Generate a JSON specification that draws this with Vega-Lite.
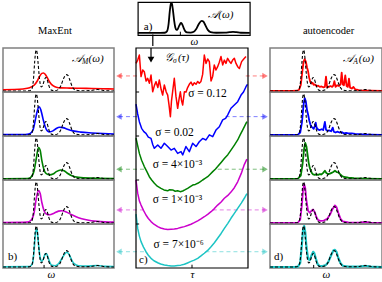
{
"$schema": "https://vega.github.io/schema/vega-lite/v6.json",
"padding": {"left": 1, "top": 1, "right": 0, "bottom": 0},
"config": {
 "font": "Liberation Serif",
 "view": {"stroke": null},
 "line": {"strokeJoin": "round"},
 "axis": {"titleFont": "Liberation Serif", "titleFontWeight": "normal", "titleFontSize": 11, "titleFontStyle": "italic", "titleColor": "black", "labels": false, "ticks": false, "domain": false, "grid": false, "titlePadding": 0},
 "title": {"font": "Liberation Serif", "fontSize": 10.5, "fontWeight": "normal", "color": "black"}
},
"datasets": {
 "truth": [{"w":0,"A":0},{"w":0.2,"A":0},{"w":0.24,"A":0.005},{"w":0.26,"A":0.05},{"w":0.275,"A":0.3},{"w":0.285,"A":0.7},{"w":0.295,"A":0.97},{"w":0.3,"A":1},{"w":0.305,"A":0.97},{"w":0.315,"A":0.72},{"w":0.325,"A":0.4},{"w":0.335,"A":0.18},{"w":0.345,"A":0.1},{"w":0.355,"A":0.12},{"w":0.37,"A":0.24},{"w":0.385,"A":0.33},{"w":0.395,"A":0.3},{"w":0.41,"A":0.16},{"w":0.425,"A":0.05},{"w":0.44,"A":0.015},{"w":0.47,"A":0.01},{"w":0.5,"A":0.04},{"w":0.52,"A":0.12},{"w":0.545,"A":0.3},{"w":0.57,"A":0.4},{"w":0.585,"A":0.38},{"w":0.6,"A":0.28},{"w":0.625,"A":0.1},{"w":0.65,"A":0.025},{"w":0.7,"A":0.005},{"w":0.78,"A":0.008},{"w":0.82,"A":0.025},{"w":0.85,"A":0.035},{"w":0.88,"A":0.025},{"w":0.92,"A":0.005},{"w":1,"A":0}],
 "me": [
  {"s":"r","w":0,"A":0.03},{"s":"r","w":0.1,"A":0.035},{"s":"r","w":0.18,"A":0.05},{"s":"r","w":0.24,"A":0.08},{"s":"r","w":0.28,"A":0.14},{"s":"r","w":0.31,"A":0.25},{"s":"r","w":0.33,"A":0.36},{"s":"r","w":0.35,"A":0.43},{"s":"r","w":0.365,"A":0.44},{"s":"r","w":0.38,"A":0.41},{"s":"r","w":0.4,"A":0.32},{"s":"r","w":0.42,"A":0.22},{"s":"r","w":0.45,"A":0.13},{"s":"r","w":0.48,"A":0.09},{"s":"r","w":0.52,"A":0.075},{"s":"r","w":0.6,"A":0.07},{"s":"r","w":0.7,"A":0.065},{"s":"r","w":0.8,"A":0.06},{"s":"r","w":0.9,"A":0.055},{"s":"r","w":1,"A":0.05},
  {"s":"b","w":0,"A":0.01},{"s":"b","w":0.2,"A":0.012},{"s":"b","w":0.24,"A":0.03},{"s":"b","w":0.27,"A":0.12},{"s":"b","w":0.29,"A":0.35},{"s":"b","w":0.31,"A":0.6},{"s":"b","w":0.325,"A":0.69},{"s":"b","w":0.34,"A":0.62},{"s":"b","w":0.36,"A":0.4},{"s":"b","w":0.38,"A":0.2},{"s":"b","w":0.4,"A":0.1},{"s":"b","w":0.42,"A":0.075},{"s":"b","w":0.45,"A":0.1},{"s":"b","w":0.48,"A":0.16},{"s":"b","w":0.51,"A":0.19},{"s":"b","w":0.54,"A":0.18},{"s":"b","w":0.58,"A":0.14},{"s":"b","w":0.63,"A":0.1},{"s":"b","w":0.7,"A":0.07},{"s":"b","w":0.8,"A":0.05},{"s":"b","w":0.9,"A":0.035},{"s":"b","w":1,"A":0.025},
  {"s":"g","w":0,"A":0.005},{"s":"g","w":0.22,"A":0.01},{"s":"g","w":0.25,"A":0.04},{"s":"g","w":0.28,"A":0.2},{"s":"g","w":0.3,"A":0.5},{"s":"g","w":0.32,"A":0.77},{"s":"g","w":0.335,"A":0.7},{"s":"g","w":0.35,"A":0.45},{"s":"g","w":0.37,"A":0.22},{"s":"g","w":0.39,"A":0.13},{"s":"g","w":0.42,"A":0.1},{"s":"g","w":0.45,"A":0.12},{"s":"g","w":0.48,"A":0.18},{"s":"g","w":0.52,"A":0.22},{"s":"g","w":0.55,"A":0.2},{"s":"g","w":0.58,"A":0.14},{"s":"g","w":0.62,"A":0.08},{"s":"g","w":0.68,"A":0.04},{"s":"g","w":0.8,"A":0.02},{"s":"g","w":1,"A":0.01},
  {"s":"m","w":0,"A":0.01},{"s":"m","w":0.22,"A":0.02},{"s":"m","w":0.25,"A":0.06},{"s":"m","w":0.28,"A":0.25},{"s":"m","w":0.3,"A":0.6},{"s":"m","w":0.32,"A":0.79},{"s":"m","w":0.335,"A":0.72},{"s":"m","w":0.35,"A":0.5},{"s":"m","w":0.37,"A":0.3},{"s":"m","w":0.39,"A":0.22},{"s":"m","w":0.42,"A":0.2},{"s":"m","w":0.46,"A":0.24},{"s":"m","w":0.5,"A":0.29},{"s":"m","w":0.53,"A":0.3},{"s":"m","w":0.57,"A":0.27},{"s":"m","w":0.62,"A":0.2},{"s":"m","w":0.68,"A":0.13},{"s":"m","w":0.75,"A":0.08},{"s":"m","w":0.85,"A":0.04},{"s":"m","w":1,"A":0.02},
  {"s":"c","w":0,"A":0.005},{"s":"c","w":0.24,"A":0.01},{"s":"c","w":0.265,"A":0.08},{"s":"c","w":0.28,"A":0.4},{"s":"c","w":0.29,"A":0.75},{"s":"c","w":0.3,"A":0.93},{"s":"c","w":0.31,"A":0.85},{"s":"c","w":0.32,"A":0.55},{"s":"c","w":0.335,"A":0.22},{"s":"c","w":0.35,"A":0.14},{"s":"c","w":0.365,"A":0.2},{"s":"c","w":0.38,"A":0.32},{"s":"c","w":0.39,"A":0.33},{"s":"c","w":0.4,"A":0.28},{"s":"c","w":0.42,"A":0.12},{"s":"c","w":0.44,"A":0.04},{"s":"c","w":0.47,"A":0.03},{"s":"c","w":0.5,"A":0.08},{"s":"c","w":0.53,"A":0.2},{"s":"c","w":0.56,"A":0.33},{"s":"c","w":0.575,"A":0.36},{"s":"c","w":0.59,"A":0.33},{"s":"c","w":0.61,"A":0.22},{"s":"c","w":0.64,"A":0.08},{"s":"c","w":0.68,"A":0.03},{"s":"c","w":0.75,"A":0.02},{"s":"c","w":0.85,"A":0.035},{"s":"c","w":0.92,"A":0.015},{"s":"c","w":1,"A":0.01}
 ],
 "ae": [
  {"s":"r","w":0,"A":0},{"s":"r","w":0.2,"A":0},{"s":"r","w":0.24,"A":0.005},{"s":"r","w":0.26,"A":0.03},{"s":"r","w":0.275,"A":0.15},{"s":"r","w":0.29,"A":0.5},{"s":"r","w":0.3,"A":0.72},{"s":"r","w":0.31,"A":0.78},{"s":"r","w":0.32,"A":0.72},{"s":"r","w":0.33,"A":0.58},{"s":"r","w":0.34,"A":0.48},{"s":"r","w":0.35,"A":0.32},{"s":"r","w":0.36,"A":0.22},{"s":"r","w":0.37,"A":0.18},{"s":"r","w":0.38,"A":0.2},{"s":"r","w":0.39,"A":0.15},{"s":"r","w":0.4,"A":0.16},{"s":"r","w":0.415,"A":0.12},{"s":"r","w":0.43,"A":0.13},{"s":"r","w":0.445,"A":0.1},{"s":"r","w":0.46,"A":0.11},{"s":"r","w":0.475,"A":0.09},{"s":"r","w":0.49,"A":0.1},{"s":"r","w":0.5,"A":0.35},{"s":"r","w":0.51,"A":0.09},{"s":"r","w":0.525,"A":0.1},{"s":"r","w":0.54,"A":0.12},{"s":"r","w":0.555,"A":0.1},{"s":"r","w":0.565,"A":0.13},{"s":"r","w":0.575,"A":0.24},{"s":"r","w":0.585,"A":0.1},{"s":"r","w":0.6,"A":0.14},{"s":"r","w":0.615,"A":0.12},{"s":"r","w":0.63,"A":0.16},{"s":"r","w":0.64,"A":0.45},{"s":"r","w":0.65,"A":0.16},{"s":"r","w":0.66,"A":0.14},{"s":"r","w":0.672,"A":0.38},{"s":"r","w":0.684,"A":0.12},{"s":"r","w":0.695,"A":0.1},{"s":"r","w":0.705,"A":0.3},{"s":"r","w":0.715,"A":0.08},{"s":"r","w":0.73,"A":0.06},{"s":"r","w":0.745,"A":0.1},{"s":"r","w":0.76,"A":0.04},{"s":"r","w":0.78,"A":0.03},{"s":"r","w":0.8,"A":0.015},{"s":"r","w":0.85,"A":0.01},{"s":"r","w":0.9,"A":0.005},{"s":"r","w":1,"A":0},
  {"s":"b","w":0,"A":0},{"s":"b","w":0.22,"A":0},{"s":"b","w":0.25,"A":0.01},{"s":"b","w":0.27,"A":0.06},{"s":"b","w":0.285,"A":0.3},{"s":"b","w":0.3,"A":0.75},{"s":"b","w":0.31,"A":0.9},{"s":"b","w":0.32,"A":0.82},{"s":"b","w":0.33,"A":0.62},{"s":"b","w":0.34,"A":0.5},{"s":"b","w":0.35,"A":0.36},{"s":"b","w":0.36,"A":0.26},{"s":"b","w":0.37,"A":0.2},{"s":"b","w":0.38,"A":0.18},{"s":"b","w":0.39,"A":0.15},{"s":"b","w":0.4,"A":0.22},{"s":"b","w":0.408,"A":0.3},{"s":"b","w":0.416,"A":0.18},{"s":"b","w":0.43,"A":0.13},{"s":"b","w":0.445,"A":0.12},{"s":"b","w":0.46,"A":0.14},{"s":"b","w":0.475,"A":0.12},{"s":"b","w":0.49,"A":0.32},{"s":"b","w":0.5,"A":0.13},{"s":"b","w":0.515,"A":0.1},{"s":"b","w":0.53,"A":0.11},{"s":"b","w":0.545,"A":0.09},{"s":"b","w":0.56,"A":0.18},{"s":"b","w":0.57,"A":0.08},{"s":"b","w":0.585,"A":0.06},{"s":"b","w":0.6,"A":0.08},{"s":"b","w":0.62,"A":0.06},{"s":"b","w":0.64,"A":0.07},{"s":"b","w":0.66,"A":0.04},{"s":"b","w":0.68,"A":0.05},{"s":"b","w":0.7,"A":0.04},{"s":"b","w":0.73,"A":0.04},{"s":"b","w":0.76,"A":0.025},{"s":"b","w":0.8,"A":0.02},{"s":"b","w":0.85,"A":0.01},{"s":"b","w":0.9,"A":0.008},{"s":"b","w":1,"A":0},
  {"s":"g","w":0,"A":0},{"s":"g","w":0.22,"A":0},{"s":"g","w":0.25,"A":0.01},{"s":"g","w":0.275,"A":0.08},{"s":"g","w":0.29,"A":0.35},{"s":"g","w":0.305,"A":0.75},{"s":"g","w":0.315,"A":0.88},{"s":"g","w":0.325,"A":0.8},{"s":"g","w":0.335,"A":0.6},{"s":"g","w":0.345,"A":0.4},{"s":"g","w":0.355,"A":0.27},{"s":"g","w":0.365,"A":0.2},{"s":"g","w":0.375,"A":0.14},{"s":"g","w":0.385,"A":0.11},{"s":"g","w":0.4,"A":0.1},{"s":"g","w":0.415,"A":0.11},{"s":"g","w":0.43,"A":0.1},{"s":"g","w":0.445,"A":0.12},{"s":"g","w":0.46,"A":0.11},{"s":"g","w":0.475,"A":0.15},{"s":"g","w":0.49,"A":0.2},{"s":"g","w":0.505,"A":0.14},{"s":"g","w":0.52,"A":0.12},{"s":"g","w":0.535,"A":0.13},{"s":"g","w":0.55,"A":0.15},{"s":"g","w":0.565,"A":0.17},{"s":"g","w":0.58,"A":0.2},{"s":"g","w":0.595,"A":0.17},{"s":"g","w":0.61,"A":0.16},{"s":"g","w":0.625,"A":0.12},{"s":"g","w":0.64,"A":0.08},{"s":"g","w":0.66,"A":0.05},{"s":"g","w":0.7,"A":0.03},{"s":"g","w":0.75,"A":0.02},{"s":"g","w":0.8,"A":0.015},{"s":"g","w":0.85,"A":0.01},{"s":"g","w":1,"A":0},
  {"s":"m","w":0,"A":0},{"s":"m","w":0.22,"A":0},{"s":"m","w":0.25,"A":0.01},{"s":"m","w":0.27,"A":0.08},{"s":"m","w":0.285,"A":0.45},{"s":"m","w":0.295,"A":0.8},{"s":"m","w":0.305,"A":0.95},{"s":"m","w":0.315,"A":0.85},{"s":"m","w":0.325,"A":0.55},{"s":"m","w":0.34,"A":0.3},{"s":"m","w":0.355,"A":0.25},{"s":"m","w":0.37,"A":0.3},{"s":"m","w":0.385,"A":0.33},{"s":"m","w":0.4,"A":0.26},{"s":"m","w":0.415,"A":0.14},{"s":"m","w":0.43,"A":0.07},{"s":"m","w":0.45,"A":0.05},{"s":"m","w":0.48,"A":0.06},{"s":"m","w":0.51,"A":0.1},{"s":"m","w":0.535,"A":0.2},{"s":"m","w":0.56,"A":0.35},{"s":"m","w":0.58,"A":0.43},{"s":"m","w":0.595,"A":0.38},{"s":"m","w":0.61,"A":0.25},{"s":"m","w":0.63,"A":0.1},{"s":"m","w":0.65,"A":0.04},{"s":"m","w":0.7,"A":0.015},{"s":"m","w":0.8,"A":0.01},{"s":"m","w":0.85,"A":0.025},{"s":"m","w":0.9,"A":0.01},{"s":"m","w":1,"A":0},
  {"s":"c","w":0,"A":0},{"s":"c","w":0.22,"A":0},{"s":"c","w":0.25,"A":0.01},{"s":"c","w":0.27,"A":0.1},{"s":"c","w":0.285,"A":0.55},{"s":"c","w":0.295,"A":0.9},{"s":"c","w":0.305,"A":1},{"s":"c","w":0.315,"A":0.85},{"s":"c","w":0.325,"A":0.5},{"s":"c","w":0.34,"A":0.2},{"s":"c","w":0.355,"A":0.17},{"s":"c","w":0.37,"A":0.28},{"s":"c","w":0.385,"A":0.37},{"s":"c","w":0.395,"A":0.34},{"s":"c","w":0.41,"A":0.2},{"s":"c","w":0.425,"A":0.07},{"s":"c","w":0.44,"A":0.03},{"s":"c","w":0.47,"A":0.02},{"s":"c","w":0.5,"A":0.05},{"s":"c","w":0.52,"A":0.12},{"s":"c","w":0.545,"A":0.28},{"s":"c","w":0.565,"A":0.4},{"s":"c","w":0.58,"A":0.42},{"s":"c","w":0.595,"A":0.36},{"s":"c","w":0.61,"A":0.22},{"s":"c","w":0.63,"A":0.09},{"s":"c","w":0.65,"A":0.03},{"s":"c","w":0.7,"A":0.01},{"s":"c","w":0.8,"A":0.01},{"s":"c","w":0.85,"A":0.03},{"s":"c","w":0.9,"A":0.01},{"s":"c","w":1,"A":0}
 ],
 "gt": [
  {"s":"r","t":0.0,"G":0.93},{"s":"r","t":0.015,"G":0.945},{"s":"r","t":0.03,"G":0.968},{"s":"r","t":0.045,"G":0.87},{"s":"r","t":0.06,"G":0.9},{"s":"r","t":0.074,"G":0.892},{"s":"r","t":0.09,"G":0.85},{"s":"r","t":0.104,"G":0.862},{"s":"r","t":0.12,"G":0.84},{"s":"r","t":0.134,"G":0.877},{"s":"r","t":0.149,"G":0.801},{"s":"r","t":0.165,"G":0.83},{"s":"r","t":0.179,"G":0.847},{"s":"r","t":0.195,"G":0.82},{"s":"r","t":0.208,"G":0.855},{"s":"r","t":0.225,"G":0.81},{"s":"r","t":0.238,"G":0.786},{"s":"r","t":0.253,"G":0.832},{"s":"r","t":0.27,"G":0.8},{"s":"r","t":0.283,"G":0.786},{"s":"r","t":0.295,"G":0.74},{"s":"r","t":0.307,"G":0.688},{"s":"r","t":0.317,"G":0.76},{"s":"r","t":0.327,"G":0.801},{"s":"r","t":0.342,"G":0.862},{"s":"r","t":0.357,"G":0.78},{"s":"r","t":0.372,"G":0.726},{"s":"r","t":0.385,"G":0.77},{"s":"r","t":0.396,"G":0.801},{"s":"r","t":0.407,"G":0.76},{"s":"r","t":0.417,"G":0.741},{"s":"r","t":0.432,"G":0.801},{"s":"r","t":0.447,"G":0.8},{"s":"r","t":0.461,"G":0.82},{"s":"r","t":0.476,"G":0.835},{"s":"r","t":0.491,"G":0.845},{"s":"r","t":0.506,"G":0.83},{"s":"r","t":0.521,"G":0.842},{"s":"r","t":0.536,"G":0.835},{"s":"r","t":0.551,"G":0.848},{"s":"r","t":0.565,"G":0.84},{"s":"r","t":0.58,"G":0.848},{"s":"r","t":0.595,"G":0.88},{"s":"r","t":0.61,"G":0.968},{"s":"r","t":0.625,"G":0.93},{"s":"r","t":0.64,"G":0.95},{"s":"r","t":0.655,"G":0.938},{"s":"r","t":0.67,"G":0.85},{"s":"r","t":0.685,"G":0.872},{"s":"r","t":0.699,"G":0.923},{"s":"r","t":0.714,"G":0.9},{"s":"r","t":0.729,"G":0.915},{"s":"r","t":0.744,"G":0.935},{"s":"r","t":0.759,"G":0.961},{"s":"r","t":0.774,"G":0.923},{"s":"r","t":0.789,"G":0.945},{"s":"r","t":0.803,"G":0.93},{"s":"r","t":0.818,"G":0.953},{"s":"r","t":0.833,"G":0.94},{"s":"r","t":0.848,"G":0.93},{"s":"r","t":0.863,"G":0.945},{"s":"r","t":0.878,"G":0.953},{"s":"r","t":0.893,"G":0.93},{"s":"r","t":0.908,"G":0.915},{"s":"r","t":0.923,"G":0.907},{"s":"r","t":0.943,"G":0.938},{"s":"r","t":0.962,"G":0.95},{"s":"r","t":0.982,"G":0.961},
  {"s":"b","t":0,"G":0.745},{"s":"b","t":0.015,"G":0.7},{"s":"b","t":0.03,"G":0.665},{"s":"b","t":0.05,"G":0.635},{"s":"b","t":0.07,"G":0.62},{"s":"b","t":0.089,"G":0.612},{"s":"b","t":0.11,"G":0.595},{"s":"b","t":0.134,"G":0.589},{"s":"b","t":0.15,"G":0.56},{"s":"b","t":0.164,"G":0.544},{"s":"b","t":0.194,"G":0.559},{"s":"b","t":0.223,"G":0.544},{"s":"b","t":0.253,"G":0.567},{"s":"b","t":0.283,"G":0.552},{"s":"b","t":0.313,"G":0.536},{"s":"b","t":0.342,"G":0.544},{"s":"b","t":0.372,"G":0.521},{"s":"b","t":0.402,"G":0.529},{"s":"b","t":0.417,"G":0.514},{"s":"b","t":0.446,"G":0.552},{"s":"b","t":0.476,"G":0.529},{"s":"b","t":0.506,"G":0.567},{"s":"b","t":0.536,"G":0.552},{"s":"b","t":0.565,"G":0.574},{"s":"b","t":0.595,"G":0.589},{"s":"b","t":0.625,"G":0.582},{"s":"b","t":0.655,"G":0.605},{"s":"b","t":0.685,"G":0.597},{"s":"b","t":0.714,"G":0.627},{"s":"b","t":0.744,"G":0.642},{"s":"b","t":0.774,"G":0.673},{"s":"b","t":0.8,"G":0.68},{"s":"b","t":0.818,"G":0.695},{"s":"b","t":0.848,"G":0.726},{"s":"b","t":0.878,"G":0.741},{"s":"b","t":0.908,"G":0.756},{"s":"b","t":0.938,"G":0.786},{"s":"b","t":0.96,"G":0.8},{"s":"b","t":0.982,"G":0.824},{"s":"b","t":0.995,"G":0.835},
  {"s":"g","t":0,"G":0.59},{"s":"g","t":0.03,"G":0.521},{"s":"g","t":0.05,"G":0.49},{"s":"g","t":0.074,"G":0.461},{"s":"g","t":0.095,"G":0.44},{"s":"g","t":0.119,"G":0.415},{"s":"g","t":0.14,"G":0.4},{"s":"g","t":0.164,"G":0.385},{"s":"g","t":0.19,"G":0.372},{"s":"g","t":0.223,"G":0.362},{"s":"g","t":0.25,"G":0.355},{"s":"g","t":0.283,"G":0.351},{"s":"g","t":0.3,"G":0.356},{"s":"g","t":0.327,"G":0.355},{"s":"g","t":0.35,"G":0.349},{"s":"g","t":0.372,"G":0.351},{"s":"g","t":0.395,"G":0.347},{"s":"g","t":0.417,"G":0.35},{"s":"g","t":0.44,"G":0.356},{"s":"g","t":0.461,"G":0.362},{"s":"g","t":0.485,"G":0.37},{"s":"g","t":0.506,"G":0.377},{"s":"g","t":0.53,"G":0.38},{"s":"g","t":0.551,"G":0.385},{"s":"g","t":0.575,"G":0.393},{"s":"g","t":0.595,"G":0.4},{"s":"g","t":0.62,"G":0.408},{"s":"g","t":0.64,"G":0.415},{"s":"g","t":0.66,"G":0.425},{"s":"g","t":0.685,"G":0.438},{"s":"g","t":0.71,"G":0.45},{"s":"g","t":0.729,"G":0.461},{"s":"g","t":0.76,"G":0.48},{"s":"g","t":0.789,"G":0.498},{"s":"g","t":0.82,"G":0.515},{"s":"g","t":0.848,"G":0.536},{"s":"g","t":0.88,"G":0.56},{"s":"g","t":0.908,"G":0.582},{"s":"g","t":0.93,"G":0.605},{"s":"g","t":0.952,"G":0.627},{"s":"g","t":0.97,"G":0.645},{"s":"g","t":0.99,"G":0.665},
  {"s":"m","t":0,"G":0.4},{"s":"m","t":0.015,"G":0.34},{"s":"m","t":0.03,"G":0.305},{"s":"m","t":0.045,"G":0.286},{"s":"m","t":0.067,"G":0.262},{"s":"m","t":0.089,"G":0.241},{"s":"m","t":0.11,"G":0.225},{"s":"m","t":0.134,"G":0.211},{"s":"m","t":0.16,"G":0.199},{"s":"m","t":0.194,"G":0.188},{"s":"m","t":0.22,"G":0.182},{"s":"m","t":0.253,"G":0.177},{"s":"m","t":0.283,"G":0.175},{"s":"m","t":0.313,"G":0.176},{"s":"m","t":0.342,"G":0.177},{"s":"m","t":0.372,"G":0.18},{"s":"m","t":0.4,"G":0.184},{"s":"m","t":0.432,"G":0.188},{"s":"m","t":0.46,"G":0.193},{"s":"m","t":0.491,"G":0.199},{"s":"m","t":0.52,"G":0.206},{"s":"m","t":0.551,"G":0.214},{"s":"m","t":0.58,"G":0.223},{"s":"m","t":0.61,"G":0.233},{"s":"m","t":0.64,"G":0.244},{"s":"m","t":0.67,"G":0.256},{"s":"m","t":0.7,"G":0.27},{"s":"m","t":0.729,"G":0.286},{"s":"m","t":0.76,"G":0.3},{"s":"m","t":0.789,"G":0.317},{"s":"m","t":0.82,"G":0.33},{"s":"m","t":0.848,"G":0.345},{"s":"m","t":0.878,"G":0.365},{"s":"m","t":0.908,"G":0.392},{"s":"m","t":0.94,"G":0.43},{"s":"m","t":0.967,"G":0.47},{"s":"m","t":0.99,"G":0.495},
  {"s":"c","t":0,"G":0.245},{"s":"c","t":0.015,"G":0.18},{"s":"c","t":0.03,"G":0.145},{"s":"c","t":0.045,"G":0.12},{"s":"c","t":0.067,"G":0.095},{"s":"c","t":0.089,"G":0.074},{"s":"c","t":0.11,"G":0.058},{"s":"c","t":0.134,"G":0.044},{"s":"c","t":0.16,"G":0.033},{"s":"c","t":0.194,"G":0.024},{"s":"c","t":0.22,"G":0.018},{"s":"c","t":0.253,"G":0.014},{"s":"c","t":0.283,"G":0.011},{"s":"c","t":0.313,"G":0.009},{"s":"c","t":0.342,"G":0.009},{"s":"c","t":0.372,"G":0.011},{"s":"c","t":0.4,"G":0.013},{"s":"c","t":0.432,"G":0.017},{"s":"c","t":0.46,"G":0.023},{"s":"c","t":0.491,"G":0.03},{"s":"c","t":0.52,"G":0.036},{"s":"c","t":0.551,"G":0.044},{"s":"c","t":0.58,"G":0.055},{"s":"c","t":0.61,"G":0.067},{"s":"c","t":0.64,"G":0.08},{"s":"c","t":0.67,"G":0.097},{"s":"c","t":0.7,"G":0.115},{"s":"c","t":0.729,"G":0.135},{"s":"c","t":0.76,"G":0.157},{"s":"c","t":0.789,"G":0.18},{"s":"c","t":0.82,"G":0.203},{"s":"c","t":0.848,"G":0.226},{"s":"c","t":0.878,"G":0.248},{"s":"c","t":0.908,"G":0.271},{"s":"c","t":0.94,"G":0.295},{"s":"c","t":0.967,"G":0.317},{"s":"c","t":0.99,"G":0.338}
 ],
 "arr": [
  {"s":"r","t":-0.152,"t2":0.02,"G":0.873},{"s":"r","t":0.98,"t2":1.152,"G":0.873},
  {"s":"b","t":-0.152,"t2":0.03,"G":0.688},{"s":"b","t":0.8,"t2":1.152,"G":0.688},
  {"s":"g","t":-0.152,"t2":0.075,"G":0.449},{"s":"g","t":0.73,"t2":1.152,"G":0.449},
  {"s":"m","t":-0.152,"t2":0.067,"G":0.264},{"s":"m","t":0.685,"t2":1.152,"G":0.264},
  {"s":"c","t":-0.152,"t2":0.09,"G":0.074},{"s":"c","t":0.62,"t2":1.152,"G":0.074}
 ],
 "heads": [
  {"s":"r","t":-0.152,"G":0.873,"dir":"L"},{"s":"r","t":1.152,"G":0.873,"dir":"R"},
  {"s":"b","t":-0.152,"G":0.688,"dir":"L"},{"s":"b","t":1.152,"G":0.688,"dir":"R"},
  {"s":"g","t":-0.152,"G":0.449,"dir":"L"},{"s":"g","t":1.152,"G":0.449,"dir":"R"},
  {"s":"m","t":-0.152,"G":0.264,"dir":"L"},{"s":"m","t":1.152,"G":0.264,"dir":"R"},
  {"s":"c","t":-0.152,"G":0.074,"dir":"L"},{"s":"c","t":1.152,"G":0.074,"dir":"R"}
 ]
},
"spacing": 0,
"vconcat": [
 {
  "spacing": 28.8,
  "hconcat": [
   {"width": 104, "height": 22, "data": {"values": []}, "mark": "point", "encoding": {}, "title": {"text": "MaxEnt", "orient": "bottom", "offset": 2, "anchor": "middle"}},
   {
    "width": 112, "height": 33,
    "view": {"stroke": "black", "strokeWidth": 1.2},
    "encoding": {
     "x": {"field": "w", "type": "quantitative", "scale": {"domain": [0, 1], "nice": false, "zero": false}, "axis": {"title": "ω"}},
     "y": {"field": "A", "type": "quantitative", "scale": {"domain": [-0.07, 1.03], "nice": false, "zero": false}, "axis": null}
    },
    "layer": [
     {"data": {"name": "truth"}, "mark": {"type": "line", "color": "black", "strokeWidth": 1.8, "interpolate": "monotone"}, "encoding": {}},
     {"data": {"values": [{"w": 0.38, "A": -0.07, "A2": 0.04}]}, "mark": {"type": "rule", "color": "black", "strokeWidth": 1}, "encoding": {"y2": {"field": "A2"}}},
     {"data": {"values": [{"w": 0.134, "A": -0.07, "A2": -0.42}]}, "mark": {"type": "rule", "color": "black", "strokeWidth": 1.2, "strokeCap": "square", "clip": false}, "encoding": {"y2": {"field": "A2"}}},
     {"data": {"values": [{"w": 0.741, "A": 0.6, "label": "𝒜(ω)"}]}, "mark": {"type": "text", "fontSize": 11, "fontStyle": "italic"}, "encoding": {"text": {"field": "label"}}},
     {"data": {"values": [{"w": 0.054, "A": 0.2, "label": "a)"}]}, "mark": {"type": "text", "fontSize": 11, "align": "left"}, "encoding": {"text": {"field": "label"}}}
    ]
   },
   {"width": 96, "height": 22, "data": {"values": []}, "mark": "point", "encoding": {}, "title": {"text": "autoencoder", "orient": "bottom", "offset": 2, "anchor": "middle"}}
  ]
 },
 {
  "spacing": 0,
  "hconcat": [
   {
    "spacing": 0,
    "bounds": "flush",
    "vconcat": [
     {
      "width": 111, "height": 44, "view": {"stroke": "#808080", "strokeWidth": 1.5},
      "encoding": {"x": {"field": "w", "type": "quantitative", "scale": {"domain": [0, 1], "nice": false, "zero": false}, "axis": null}, "y": {"field": "A", "type": "quantitative", "scale": {"domain": [-0.025, 1.05], "nice": false, "zero": false}, "axis": null}},
      "layer": [
       {"data": {"name": "me"}, "transform": [{"filter": "datum.s == 'r'"}], "mark": {"type": "line", "color": "#ff0000", "strokeWidth": 1.6, "interpolate": "monotone"}, "encoding": {}},
       {"data": {"name": "truth"}, "mark": {"type": "line", "color": "black", "strokeWidth": 1.1, "strokeDash": [3, 2], "interpolate": "monotone"}, "encoding": {}},
       {"data": {"values": [{"w": 0.712, "A": 0.78, "a": "𝒜", "b": "M", "c": "(ω)"}]}, "mark": {"type": "text", "fontSize": 11, "fontStyle": "italic", "align": "right"}, "encoding": {"text": {"field": "a"}}},
       {"data": {"values": [{"w": 0.712, "A": 0.78, "a": "𝒜", "b": "M", "c": "(ω)"}]}, "mark": {"type": "text", "fontSize": 7.5, "fontStyle": "italic", "align": "left", "dy": 3}, "encoding": {"text": {"field": "b"}}},
       {"data": {"values": [{"w": 0.712, "A": 0.78, "a": "𝒜", "b": "M", "c": "(ω)"}]}, "mark": {"type": "text", "fontSize": 11, "fontStyle": "italic", "align": "left", "dx": 6.5}, "encoding": {"text": {"field": "c"}}}
      ]
     },
     {
      "width": 111, "height": 44, "view": {"stroke": "#808080", "strokeWidth": 1.5},
      "encoding": {"x": {"field": "w", "type": "quantitative", "scale": {"domain": [0, 1], "nice": false, "zero": false}, "axis": null}, "y": {"field": "A", "type": "quantitative", "scale": {"domain": [-0.025, 1.05], "nice": false, "zero": false}, "axis": null}},
      "layer": [
       {"data": {"name": "me"}, "transform": [{"filter": "datum.s == 'b'"}], "mark": {"type": "line", "color": "#0000ff", "strokeWidth": 1.6, "interpolate": "monotone"}, "encoding": {}},
       {"data": {"name": "truth"}, "mark": {"type": "line", "color": "black", "strokeWidth": 1.1, "strokeDash": [3, 2], "interpolate": "monotone"}, "encoding": {}}
      ]
     },
     {
      "width": 111, "height": 44, "view": {"stroke": "#808080", "strokeWidth": 1.5},
      "encoding": {"x": {"field": "w", "type": "quantitative", "scale": {"domain": [0, 1], "nice": false, "zero": false}, "axis": null}, "y": {"field": "A", "type": "quantitative", "scale": {"domain": [-0.025, 1.05], "nice": false, "zero": false}, "axis": null}},
      "layer": [
       {"data": {"name": "me"}, "transform": [{"filter": "datum.s == 'g'"}], "mark": {"type": "line", "color": "#008000", "strokeWidth": 1.6, "interpolate": "monotone"}, "encoding": {}},
       {"data": {"name": "truth"}, "mark": {"type": "line", "color": "black", "strokeWidth": 1.1, "strokeDash": [3, 2], "interpolate": "monotone"}, "encoding": {}}
      ]
     },
     {
      "width": 111, "height": 44, "view": {"stroke": "#808080", "strokeWidth": 1.5},
      "encoding": {"x": {"field": "w", "type": "quantitative", "scale": {"domain": [0, 1], "nice": false, "zero": false}, "axis": null}, "y": {"field": "A", "type": "quantitative", "scale": {"domain": [-0.025, 1.05], "nice": false, "zero": false}, "axis": null}},
      "layer": [
       {"data": {"name": "me"}, "transform": [{"filter": "datum.s == 'm'"}], "mark": {"type": "line", "color": "#cc00cc", "strokeWidth": 1.6, "interpolate": "monotone"}, "encoding": {}},
       {"data": {"name": "truth"}, "mark": {"type": "line", "color": "black", "strokeWidth": 1.1, "strokeDash": [3, 2], "interpolate": "monotone"}, "encoding": {}}
      ]
     },
     {
      "width": 111, "height": 44, "view": {"stroke": "#808080", "strokeWidth": 1.5},
      "encoding": {"x": {"field": "w", "type": "quantitative", "scale": {"domain": [0, 1], "nice": false, "zero": false}, "axis": {"title": "ω", "titleX": 48}}, "y": {"field": "A", "type": "quantitative", "scale": {"domain": [-0.025, 1.05], "nice": false, "zero": false}, "axis": null}},
      "layer": [
       {"data": {"name": "me"}, "transform": [{"filter": "datum.s == 'c'"}], "mark": {"type": "line", "color": "#1cc4c4", "strokeWidth": 1.6, "interpolate": "monotone"}, "encoding": {}},
       {"data": {"name": "truth"}, "mark": {"type": "line", "color": "black", "strokeWidth": 1.1, "strokeDash": [3, 2], "interpolate": "monotone"}, "encoding": {}},
       {"data": {"values": [{"w": 0.37, "A": -0.025, "A2": 0.05}]}, "mark": {"type": "rule", "color": "black", "strokeWidth": 1}, "encoding": {"y2": {"field": "A2"}}},
       {"data": {"values": [{"w": 0.045, "A": 0.24, "label": "b)"}]}, "mark": {"type": "text", "fontSize": 11, "align": "left"}, "encoding": {"text": {"field": "label"}}}
      ]
     }
    ]
   },
   {
    "width": 152, "height": 220,
    "encoding": {
     "x": {"field": "t", "type": "quantitative", "scale": {"domain": [-0.1786, 1.1786], "nice": false, "zero": false}, "axis": {"title": "τ"}},
     "y": {"field": "G", "type": "quantitative", "scale": {"domain": [0, 1], "nice": false, "zero": false}, "axis": null},
     "color": {"field": "s", "type": "nominal", "scale": {"domain": ["r", "b", "g", "m", "c"], "range": ["#ff0000", "#0000ff", "#008000", "#cc00cc", "#1cc4c4"]}, "legend": null}
    },
    "layer": [
     {"data": {"name": "arr"}, "mark": {"type": "rule", "strokeDash": [4, 3], "strokeWidth": 1, "opacity": 0.5}, "encoding": {"x2": {"field": "t2"}}},
     {"data": {"name": "heads"}, "mark": {"type": "point", "filled": true, "opacity": 0.5, "size": 40}, "encoding": {"shape": {"field": "dir", "type": "nominal", "scale": {"domain": ["L", "R"], "range": ["triangle-left", "triangle-right"]}, "legend": null}}},
     {"data": {"name": "gt"}, "mark": {"type": "line", "strokeWidth": 1.5}, "encoding": {}},
     {"data": {"values": [{"t": 0, "t2": 1, "G": 0, "G2": 1}]}, "mark": {"type": "rect", "filled": false, "stroke": "black", "strokeWidth": 1.2}, "encoding": {"x2": {"field": "t2"}, "y2": {"field": "G2"}, "color": {"value": "black"}}},
     {"data": {"values": [{"t": 0, "t2": 0.028, "G": 0.2}, {"t": 0, "t2": 0.028, "G": 0.4}, {"t": 0, "t2": 0.028, "G": 0.6}, {"t": 0, "t2": 0.028, "G": 0.8}]}, "mark": {"type": "rule", "strokeWidth": 1}, "encoding": {"x2": {"field": "t2"}, "color": {"value": "black"}}},
     {"data": {"values": [{"t": 0.5, "G": 0, "G2": 0.015}]}, "mark": {"type": "rule", "strokeWidth": 1}, "encoding": {"y2": {"field": "G2"}, "color": {"value": "black"}}},
     {"data": {"values": [{"t": 0.134, "G": 1, "G2": 0.95}]}, "mark": {"type": "rule", "strokeWidth": 1.2}, "encoding": {"y2": {"field": "G2"}, "color": {"value": "black"}}},
     {"data": {"values": [{"t": 0.134, "G": 0.947}]}, "mark": {"type": "point", "filled": true, "opacity": 1, "size": 45, "shape": "triangle-down"}, "encoding": {"color": {"value": "black"}}},
     {"data": {"values": [{"t": 0.33, "G": 0.955, "a": "𝒢", "b": "σ", "c": "(τ)"}]}, "mark": {"type": "text", "fontSize": 11, "fontStyle": "italic", "align": "right"}, "encoding": {"text": {"field": "a"}, "color": {"value": "black"}}},
     {"data": {"values": [{"t": 0.33, "G": 0.955, "a": "𝒢", "b": "σ", "c": "(τ)"}]}, "mark": {"type": "text", "fontSize": 7.5, "fontStyle": "italic", "align": "left", "dy": 3}, "encoding": {"text": {"field": "b"}, "color": {"value": "black"}}},
     {"data": {"values": [{"t": 0.33, "G": 0.955, "a": "𝒢", "b": "σ", "c": "(τ)"}]}, "mark": {"type": "text", "fontSize": 11, "fontStyle": "italic", "align": "left", "dx": 5}, "encoding": {"text": {"field": "c"}, "color": {"value": "black"}}},
     {"data": {"values": [{"t": 0.638, "G": 0.792, "label": "σ = 0.12"}, {"t": 0.344, "G": 0.614, "label": "σ = 0.02"}, {"t": 0.37, "G": 0.468, "label": "σ = 4×10⁻³"}, {"t": 0.37, "G": 0.309, "label": "σ = 1×10⁻³"}, {"t": 0.38, "G": 0.105, "label": "σ = 7×10⁻⁶"}]}, "mark": {"type": "text", "fontSize": 11.5}, "encoding": {"text": {"field": "label"}, "color": {"value": "black"}}},
     {"data": {"values": [{"t": 0.027, "G": 0.036, "label": "c)"}]}, "mark": {"type": "text", "fontSize": 11, "align": "left"}, "encoding": {"text": {"field": "label"}, "color": {"value": "black"}}}
    ]
   },
   {
    "spacing": 0,
    "bounds": "flush",
    "vconcat": [
     {
      "width": 112, "height": 44, "view": {"stroke": "#808080", "strokeWidth": 1.5},
      "encoding": {"x": {"field": "w", "type": "quantitative", "scale": {"domain": [0, 1], "nice": false, "zero": false}, "axis": null}, "y": {"field": "A", "type": "quantitative", "scale": {"domain": [-0.025, 1.05], "nice": false, "zero": false}, "axis": null}},
      "layer": [
       {"data": {"name": "ae"}, "transform": [{"filter": "datum.s == 'r'"}], "mark": {"type": "line", "color": "#ff0000", "strokeWidth": 1.8}, "encoding": {}},
       {"data": {"name": "truth"}, "mark": {"type": "line", "color": "black", "strokeWidth": 1.1, "strokeDash": [3, 2], "interpolate": "monotone"}, "encoding": {}},
       {"data": {"values": [{"w": 0.743, "A": 0.78, "a": "𝒜", "b": "A", "c": "(ω)"}]}, "mark": {"type": "text", "fontSize": 11, "fontStyle": "italic", "align": "right"}, "encoding": {"text": {"field": "a"}}},
       {"data": {"values": [{"w": 0.743, "A": 0.78, "a": "𝒜", "b": "A", "c": "(ω)"}]}, "mark": {"type": "text", "fontSize": 7.5, "fontStyle": "italic", "align": "left", "dy": 3}, "encoding": {"text": {"field": "b"}}},
       {"data": {"values": [{"w": 0.743, "A": 0.78, "a": "𝒜", "b": "A", "c": "(ω)"}]}, "mark": {"type": "text", "fontSize": 11, "fontStyle": "italic", "align": "left", "dx": 5.5}, "encoding": {"text": {"field": "c"}}}
      ]
     },
     {
      "width": 112, "height": 44, "view": {"stroke": "#808080", "strokeWidth": 1.5},
      "encoding": {"x": {"field": "w", "type": "quantitative", "scale": {"domain": [0, 1], "nice": false, "zero": false}, "axis": null}, "y": {"field": "A", "type": "quantitative", "scale": {"domain": [-0.025, 1.05], "nice": false, "zero": false}, "axis": null}},
      "layer": [
       {"data": {"name": "ae"}, "transform": [{"filter": "datum.s == 'b'"}], "mark": {"type": "line", "color": "#0000ff", "strokeWidth": 1.8}, "encoding": {}},
       {"data": {"name": "truth"}, "mark": {"type": "line", "color": "black", "strokeWidth": 1.1, "strokeDash": [3, 2], "interpolate": "monotone"}, "encoding": {}}
      ]
     },
     {
      "width": 112, "height": 44, "view": {"stroke": "#808080", "strokeWidth": 1.5},
      "encoding": {"x": {"field": "w", "type": "quantitative", "scale": {"domain": [0, 1], "nice": false, "zero": false}, "axis": null}, "y": {"field": "A", "type": "quantitative", "scale": {"domain": [-0.025, 1.05], "nice": false, "zero": false}, "axis": null}},
      "layer": [
       {"data": {"name": "ae"}, "transform": [{"filter": "datum.s == 'g'"}], "mark": {"type": "line", "color": "#008000", "strokeWidth": 1.8}, "encoding": {}},
       {"data": {"name": "truth"}, "mark": {"type": "line", "color": "black", "strokeWidth": 1.1, "strokeDash": [3, 2], "interpolate": "monotone"}, "encoding": {}}
      ]
     },
     {
      "width": 112, "height": 44, "view": {"stroke": "#808080", "strokeWidth": 1.5},
      "encoding": {"x": {"field": "w", "type": "quantitative", "scale": {"domain": [0, 1], "nice": false, "zero": false}, "axis": null}, "y": {"field": "A", "type": "quantitative", "scale": {"domain": [-0.025, 1.05], "nice": false, "zero": false}, "axis": null}},
      "layer": [
       {"data": {"name": "ae"}, "transform": [{"filter": "datum.s == 'm'"}], "mark": {"type": "line", "color": "#cc00cc", "strokeWidth": 1.8}, "encoding": {}},
       {"data": {"name": "truth"}, "mark": {"type": "line", "color": "black", "strokeWidth": 1.1, "strokeDash": [3, 2], "interpolate": "monotone"}, "encoding": {}}
      ]
     },
     {
      "width": 112, "height": 44, "view": {"stroke": "#808080", "strokeWidth": 1.5},
      "encoding": {"x": {"field": "w", "type": "quantitative", "scale": {"domain": [0, 1], "nice": false, "zero": false}, "axis": {"title": "ω"}}, "y": {"field": "A", "type": "quantitative", "scale": {"domain": [-0.025, 1.05], "nice": false, "zero": false}, "axis": null}},
      "layer": [
       {"data": {"name": "ae"}, "transform": [{"filter": "datum.s == 'c'"}], "mark": {"type": "line", "color": "#1cc4c4", "strokeWidth": 2.2}, "encoding": {}},
       {"data": {"name": "truth"}, "mark": {"type": "line", "color": "black", "strokeWidth": 1.1, "strokeDash": [3, 2], "interpolate": "monotone"}, "encoding": {}},
       {"data": {"values": [{"w": 0.39, "A": -0.025, "A2": 0.05}]}, "mark": {"type": "rule", "color": "black", "strokeWidth": 1}, "encoding": {"y2": {"field": "A2"}}},
       {"data": {"values": [{"w": 0.035, "A": 0.24, "label": "d)"}]}, "mark": {"type": "text", "fontSize": 11, "align": "left"}, "encoding": {"text": {"field": "label"}}}
      ]
     }
    ]
   }
  ]
 }
]
}
